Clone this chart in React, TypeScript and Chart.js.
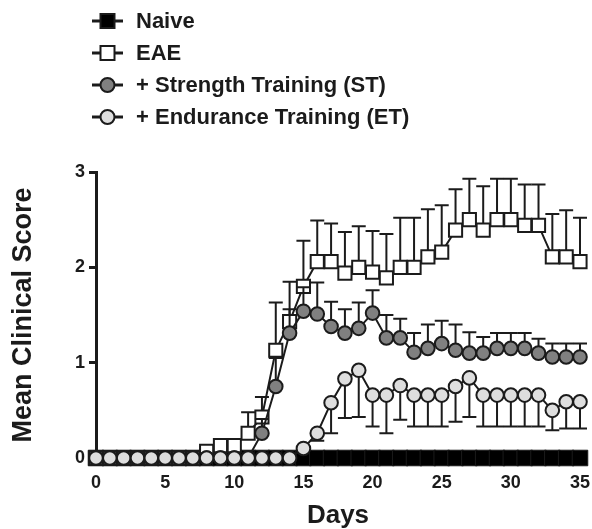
import React, { useEffect, useRef } from "react";
import { Chart, registerables } from "chart.js";

Chart.register(...registerables);

// ---------- data ----------
const days = [0, 1, 2, 3, 4, 5, 6, 7, 8, 9, 10, 11, 12, 13, 14, 15, 16, 17, 18, 19, 20, 21, 22, 23, 24, 25, 26, 27, 28, 29, 30, 31, 32, 33, 34, 35];

const naive = [0, 0, 0, 0, 0, 0, 0, 0, 0, 0, 0, 0, 0, 0, 0, 0, 0, 0, 0, 0, 0, 0, 0, 0, 0, 0, 0, 0, 0, 0, 0, 0, 0, 0, 0, 0];

const eae = [0, 0, 0, 0, 0, 0, 0, 0, 0.07, 0.13, 0.13, 0.26, 0.43, 1.13, 1.43, 1.8, 2.06, 2.06, 1.94, 2.0, 1.95, 1.89, 2.0, 2.0, 2.11, 2.16, 2.39, 2.5, 2.39, 2.5, 2.5, 2.44, 2.44, 2.11, 2.11, 2.06];
const eaeErr = [0, 0, 0, 0, 0, 0, 0, 0, 0.03, 0.07, 0.07, 0.22, 0.21, 0.5, 0.42, 0.48, 0.43, 0.4, 0.43, 0.43, 0.43, 0.46, 0.52, 0.52, 0.5, 0.49, 0.43, 0.43, 0.46, 0.43, 0.43, 0.43, 0.43, 0.45, 0.49, 0.46];

const st = [0, 0, 0, 0, 0, 0, 0, 0, 0, 0, 0, 0, 0.26, 0.75, 1.31, 1.54, 1.51, 1.38, 1.31, 1.36, 1.52, 1.26, 1.26, 1.11, 1.15, 1.2, 1.13, 1.1, 1.1, 1.15, 1.15, 1.15, 1.1, 1.06, 1.06, 1.06];
const stErr = [0, 0, 0, 0, 0, 0, 0, 0, 0, 0, 0, 0, 0.15, 0.3, 0.25, 0.25, 0.33, 0.26, 0.25, 0.27, 0.24, 0.24, 0.2, 0.2, 0.25, 0.24, 0.27, 0.22, 0.17, 0.16, 0.16, 0.16, 0.15, 0.14, 0.14, 0.14];

const et = [0, 0, 0, 0, 0, 0, 0, 0, 0, 0, 0, 0, 0, 0, 0, 0.1, 0.26, 0.58, 0.83, 0.92, 0.66, 0.66, 0.76, 0.66, 0.66, 0.66, 0.75, 0.84, 0.66, 0.66, 0.66, 0.66, 0.66, 0.5, 0.59, 0.59];
const etErr = [0, 0, 0, 0, 0, 0, 0, 0, 0, 0, 0, 0, 0, 0, 0, 0, 0.08, 0.32, 0.41, 0.49, 0.33, 0.4, 0.36, 0.33, 0.33, 0.33, 0.37, 0.41, 0.33, 0.33, 0.33, 0.33, 0.33, 0.21, 0.28, 0.28];

const seriesLabels = ["Naive", "EAE", "+ Strength Training (ST)", "+ Endurance Training (ET)"];
const xTicks = [0, 5, 10, 15, 20, 25, 30, 35];
const yTicks = [0, 1, 2, 3];

// ---------- styles ----------
const INK = "#1b1b1b";
const FONT = '"Liberation Sans", Arial, Helvetica, sans-serif';

const toXY = (vals: number[]) => vals.map((v, i) => ({ x: days[i], y: v }));

const errorBarPlugin = {
  id: "errorBars",
  beforeDatasetDraw(chart: any, args: any) {
    const ds = chart.data.datasets[args.index];
    const errs: number[] | undefined = ds.errors;
    if (!errs) return;
    const dir = ds.errDir || 1;
    const xs = chart.scales.x;
    const ys = chart.scales.y;
    const ctx = chart.ctx;
    ctx.save();
    ctx.strokeStyle = INK;
    ctx.lineWidth = 2;
    const vals: number[] = ds.rawValues;
    vals.forEach((v, i) => {
      const e = errs[i];
      if (!e) return;
      const px = xs.getPixelForValue(days[i]);
      const p0 = ys.getPixelForValue(v);
      const p1 = ys.getPixelForValue(v + dir * e);
      ctx.beginPath();
      ctx.moveTo(px, p0);
      ctx.lineTo(px, p1);
      ctx.moveTo(px - 7, p1);
      ctx.lineTo(px + 7, p1);
      ctx.stroke();
    });
    ctx.restore();
  },
};

const legendPlugin = {
  id: "stackLegend",
  afterDraw(chart: any) {
    const ctx = chart.ctx;
    ctx.save();
    const y0 = 21;
    const dy = 32;
    chart.data.datasets.forEach((ds: any, i: number) => {
      const y = y0 + i * dy;
      ctx.strokeStyle = INK;
      ctx.lineWidth = 3;
      ctx.beginPath();
      ctx.moveTo(92, y);
      ctx.lineTo(123, y);
      ctx.stroke();
      ctx.fillStyle = ds.pointBackgroundColor;
      ctx.lineWidth = 2;
      ctx.beginPath();
      if (ds.pointStyle === "rect") {
        ctx.rect(107.5 - 7, y - 7, 14, 14);
      } else {
        ctx.arc(107.5, y, 7, 0, Math.PI * 2);
      }
      ctx.fill();
      ctx.stroke();
      ctx.fillStyle = INK;
      ctx.font = `bold 22px ${FONT}`;
      ctx.textBaseline = "middle";
      ctx.textAlign = "left";
      ctx.fillText(ds.label, 136, y + 1);
    });
    ctx.restore();
  },
};

export default function App() {
  const ref = useRef<HTMLCanvasElement | null>(null);

  useEffect(() => {
    if (!ref.current) return;
    const common = {
      showLine: true,
      borderColor: INK,
      borderWidth: 2,
      pointBorderColor: INK,
      pointBorderWidth: 2,
      tension: 0,
      clip: false as any,
    };
    const chart = new Chart(ref.current, {
      type: "scatter",
      data: {
        datasets: [
          {
            ...common,
            label: seriesLabels[0],
            data: toXY(naive),
            rawValues: naive,
            pointStyle: "rect",
            pointRadius: 11,
            pointBorderWidth: 1,
            pointBackgroundColor: "#000000",
            order: 4,
          } as any,
          {
            ...common,
            label: seriesLabels[1],
            data: toXY(eae),
            rawValues: eae,
            errors: eaeErr,
            errDir: 1,
            pointStyle: "rect",
            pointRadius: 9.3,
            pointBackgroundColor: "#ffffff",
            order: 3,
          } as any,
          {
            ...common,
            label: seriesLabels[2],
            data: toXY(st),
            rawValues: st,
            errors: stErr,
            errDir: 1,
            pointStyle: "circle",
            pointRadius: 6.8,
            pointBackgroundColor: "#808080",
            order: 2,
          } as any,
          {
            ...common,
            label: seriesLabels[3],
            data: toXY(et),
            rawValues: et,
            errors: etErr,
            errDir: -1,
            pointStyle: "circle",
            pointRadius: 6.8,
            pointBackgroundColor: "#dedede",
            order: 1,
          } as any,
        ],
      },
      options: {
        animation: false,
        responsive: true,
        maintainAspectRatio: false,
        layout: { padding: { top: 172, right: 0, bottom: 0, left: 0 } },
        plugins: {
          legend: { display: false },
          tooltip: { enabled: false },
        },
        scales: {
          x: {
            type: "linear",
            min: 0,
            max: 35,
            afterBuildTicks: (s: any) => {
              s.ticks = xTicks.map((v) => ({ value: v }));
            },
            afterFit: (s: any) => {
              s.height = 71;
              s.paddingLeft = 0;
              s.paddingRight = 12;
            },
            grid: { display: false, drawTicks: false },
            border: { display: false },
            ticks: {
              color: INK,
              padding: 14,
              font: { family: FONT, size: 18, weight: "bold" },
            },
            title: {
              display: true,
              text: "Days",
              color: INK,
              padding: { top: 0, bottom: 0 },
              font: { family: FONT, size: 26, weight: "bold", lineHeight: 1 },
            },
          },
          y: {
            type: "linear",
            min: 0,
            max: 3,
            afterBuildTicks: (s: any) => {
              s.ticks = yTicks.map((v) => ({ value: v }));
            },
            afterFit: (s: any) => {
              s.width = 96;
            },
            grid: {
              display: true,
              drawOnChartArea: false,
              drawTicks: true,
              tickLength: 7,
              lineWidth: 3,
              color: INK,
            },
            border: { display: true, width: 3, color: INK },
            ticks: {
              color: INK,
              padding: 4,
              font: { family: FONT, size: 18, weight: "bold" },
            },
            title: {
              display: true,
              text: "Mean Clinical Score",
              color: INK,
              padding: { top: 7, bottom: 0 },
              font: { family: FONT, size: 27, weight: "bold" },
            },
          },
        },
      } as any,
      plugins: [errorBarPlugin, legendPlugin],
    });
    return () => chart.destroy();
  }, []);

  return (
    <div style={{ position: "fixed", left: 0, top: 0, width: 592, height: 529, background: "#fff" }}>
      <canvas ref={ref} />
    </div>
  );
}
